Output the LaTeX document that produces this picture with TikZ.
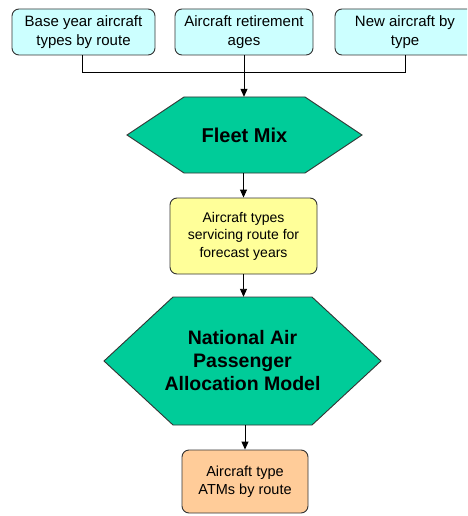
\documentclass[tikz,border=0pt]{standalone}
\usepackage{fontspec}
\setmainfont{Liberation Sans}
\usetikzlibrary{arrows.meta}
\definecolor{incyan}{HTML}{CCFFFF}
\definecolor{hexgreen}{HTML}{00CC99}
\definecolor{outyellow}{HTML}{FFFF99}
\definecolor{outorange}{HTML}{FFCC99}
\definecolor{edgegray}{HTML}{333333}
\tikzset{
  box/.style={draw=edgegray, line width=0.9pt, rounded corners=7pt, align=center, inner sep=0pt, text=black},
  inbox/.style={box, fill=incyan, font=\fontsize{15}{19}\selectfont},
  hexlabel/.style={draw=none, align=center, inner sep=0pt, font=\bfseries\fontsize{20}{23}\selectfont},
  hexshape/.style={draw=edgegray, line width=0.9pt, fill=hexgreen},
  conn/.style={draw=black, line width=0.9pt},
  arr/.style={conn, -{Triangle[length=8pt,width=7pt]}},
}
\begin{document}
\begin{tikzpicture}[x=1pt,y=-1pt]
\useasboundingbox (0,0) rectangle (467,516);
\clip (0,0) rectangle (467,516);
% input boxes
\node[inbox, minimum width=143, minimum height=46] (base) at (83.5,32) {Base year aircraft\\types by route};
\node[inbox, minimum width=138, minimum height=46] (ret) at (244,32) {Aircraft retirement\\ages};
\node[inbox, minimum width=140, minimum height=46] (new) at (405,32) {New aircraft by\\type};
% fleet mix hexagon
\draw[hexshape] (127,135) -- (184,97) -- (305,97) -- (362,135) -- (305,173) -- (184,173) -- cycle;
\node[hexlabel, minimum width=235, minimum height=76] (fleet) at (244.5,135) {Fleet Mix};
% yellow box
\node[box, fill=outyellow, font=\fontsize{14}{17.5}\selectfont, minimum width=147, minimum height=76] (types) at (243.5,236) {Aircraft types\\servicing route for\\forecast years};
% NAPAM hexagon
\draw[hexshape] (104,361) -- (173,297) -- (312,297) -- (381,361) -- (312,425) -- (173,425) -- cycle;
\node[hexlabel, font=\bfseries\fontsize{19.5}{23}\selectfont, minimum width=277, minimum height=128] (napam) at (242.5,361) {National Air\\Passenger\\Allocation Model};
% output box
\node[box, fill=outorange, font=\fontsize{14.5}{18}\selectfont, minimum width=126, minimum height=63] (atm) at (245,481.5) {Aircraft type\\ATMs by route};
% connectors
\coordinate (jl) at (82,72);
\coordinate (jr) at (405,72);
\draw[conn] (base.south -| jl) -- (jl) -- (jr) -- (new.south);
\draw[arr] (ret.south) -- (ret.south |- fleet.north);
\draw[arr] (fleet.south -| types.north) -- (types.north);
\draw[arr] (types.south) -- (types.south |- napam.north);
\draw[arr] (napam.south -| atm.north) -- (atm.north);
\end{tikzpicture}
\end{document}
